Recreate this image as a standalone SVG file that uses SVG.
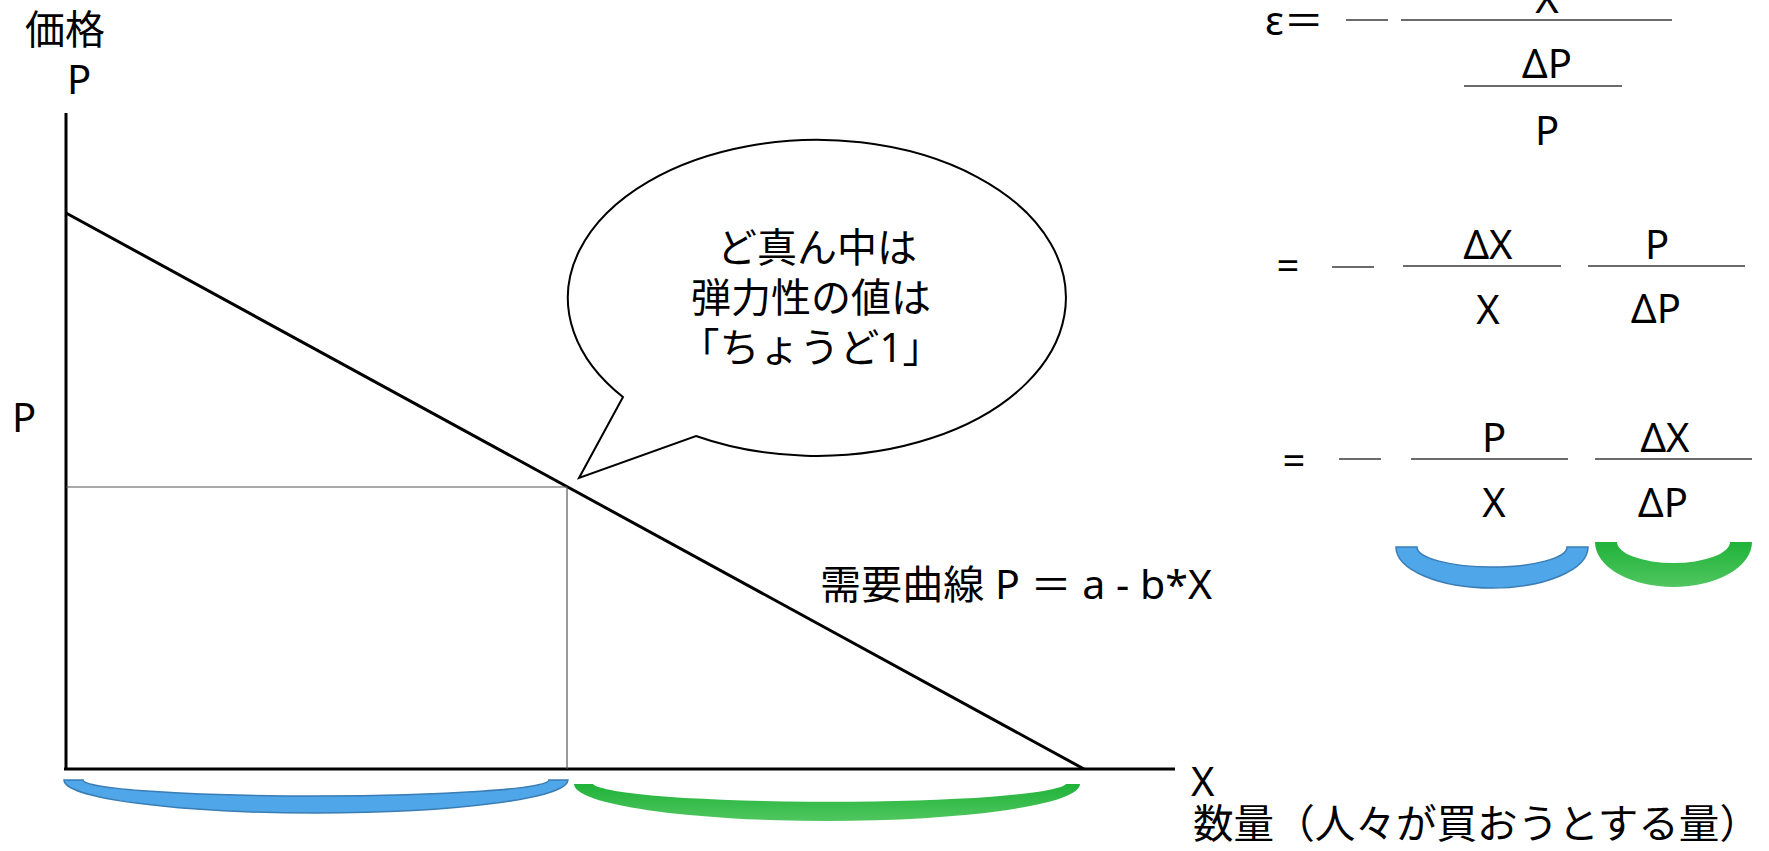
<svg xmlns="http://www.w3.org/2000/svg" width="1769" height="851" viewBox="0 0 1769 851">
<defs>
<style>
text{font-family:"Noto Sans","Noto Sans CJK JP",sans-serif;font-size:40px;fill:#000;}
.c{text-anchor:middle;}
.ax{stroke:#000;stroke-width:3;fill:none;}
.thin{stroke:#555;stroke-width:1.2;fill:none;}
.frac{stroke:#3a3a3a;stroke-width:1.6;fill:none;}
.blue{fill:#4fa6e8;stroke:#3a7db5;stroke-width:1.5;}
.green{fill:url(#gg);stroke:none;}
</style>
<linearGradient id="gg" x1="0" y1="0" x2="0" y2="1">
<stop offset="0" stop-color="#1fb239"/>
<stop offset="1" stop-color="#50c65f"/>
</linearGradient>
</defs>
<rect width="1769" height="851" fill="#fff"/>

<g id="connectors">
<line class="ax" x1="66" y1="113" x2="66" y2="770"/>
<line class="ax" x1="64" y1="769" x2="1175" y2="769"/>
<line class="ax" x1="66" y1="213" x2="1084" y2="769"/>
<line class="thin" x1="66" y1="487" x2="567" y2="487"/>
<line class="thin" x1="567" y1="487" x2="567" y2="769"/>
</g>

<g id="axis-labels">
<text x="25" y="44">価格</text>
<text x="67" y="94">P</text>
<text x="12" y="432">P</text>
<text x="1191" y="796">X</text>
<text x="1193" y="838" textLength="567" lengthAdjust="spacingAndGlyphs">数量（人々が買おうとする量）</text>
<text x="820" y="599" textLength="392" lengthAdjust="spacingAndGlyphs">需要曲線 P ＝ a - b*X</text>
</g>

<g id="bubble">
<path d="M 623 397 L 579 478 L 696 436 A 249 158 0 1 0 623 397 Z" fill="#fff" stroke="#000" stroke-width="2" stroke-linejoin="miter"/>
<text class="c" x="817" y="262">ど真ん中は</text>
<text class="c" x="811" y="312">弾力性の値は</text>
<text class="c" x="811" y="362">「ちょうど1」</text>
</g>

<g id="bracket-left">
<path class="blue" d="M 64 780 A 252 33 0 0 0 568 780 L 549 780 A 233 16 0 0 1 83 780 Z"/>
</g>
<g id="bracket-right">
<path class="green" d="M 574 784 A 253 37 0 0 0 1080 784 L 1066 784 A 237 19 0 0 1 593 784 Z"/>
</g>

<g id="formula1">
<text x="1265" y="35">ε＝</text>
<line class="frac" x1="1346" y1="20" x2="1388" y2="20"/>
<line class="frac" x1="1401" y1="20" x2="1672" y2="20"/>
<text class="c" x="1547" y="13">X</text>
<text class="c" x="1547" y="78">ΔP</text>
<line class="frac" x1="1464" y1="86" x2="1622" y2="86"/>
<text class="c" x="1547" y="145">P</text>
</g>

<g id="formula2">
<text class="c" x="1288" y="280">=</text>
<line class="frac" x1="1332" y1="267" x2="1374" y2="267"/>
<text class="c" x="1488" y="259">ΔX</text>
<line class="frac" x1="1403" y1="266" x2="1561" y2="266"/>
<text class="c" x="1488" y="324">X</text>
<text class="c" x="1657" y="259">P</text>
<line class="frac" x1="1588" y1="266" x2="1745" y2="266"/>
<text class="c" x="1656" y="323">ΔP</text>
</g>

<g id="formula3">
<text class="c" x="1294" y="475">=</text>
<line class="frac" x1="1339" y1="459" x2="1381" y2="459"/>
<text class="c" x="1494" y="452">P</text>
<line class="frac" x1="1411" y1="459" x2="1568" y2="459"/>
<text class="c" x="1494" y="517">X</text>
<text class="c" x="1665" y="452">ΔX</text>
<line class="frac" x1="1595" y1="459" x2="1752" y2="459"/>
<text class="c" x="1663" y="517">ΔP</text>
<path class="blue" d="M 1396 547 A 96 41 0 0 0 1588 547 L 1567 547 A 75 20 0 0 1 1417 547 Z"/>
<path class="green" d="M 1595 542 A 78.5 45 0 0 0 1752 542 L 1730 542 A 56.5 21 0 0 1 1617 542 Z"/>
</g>
</svg>
